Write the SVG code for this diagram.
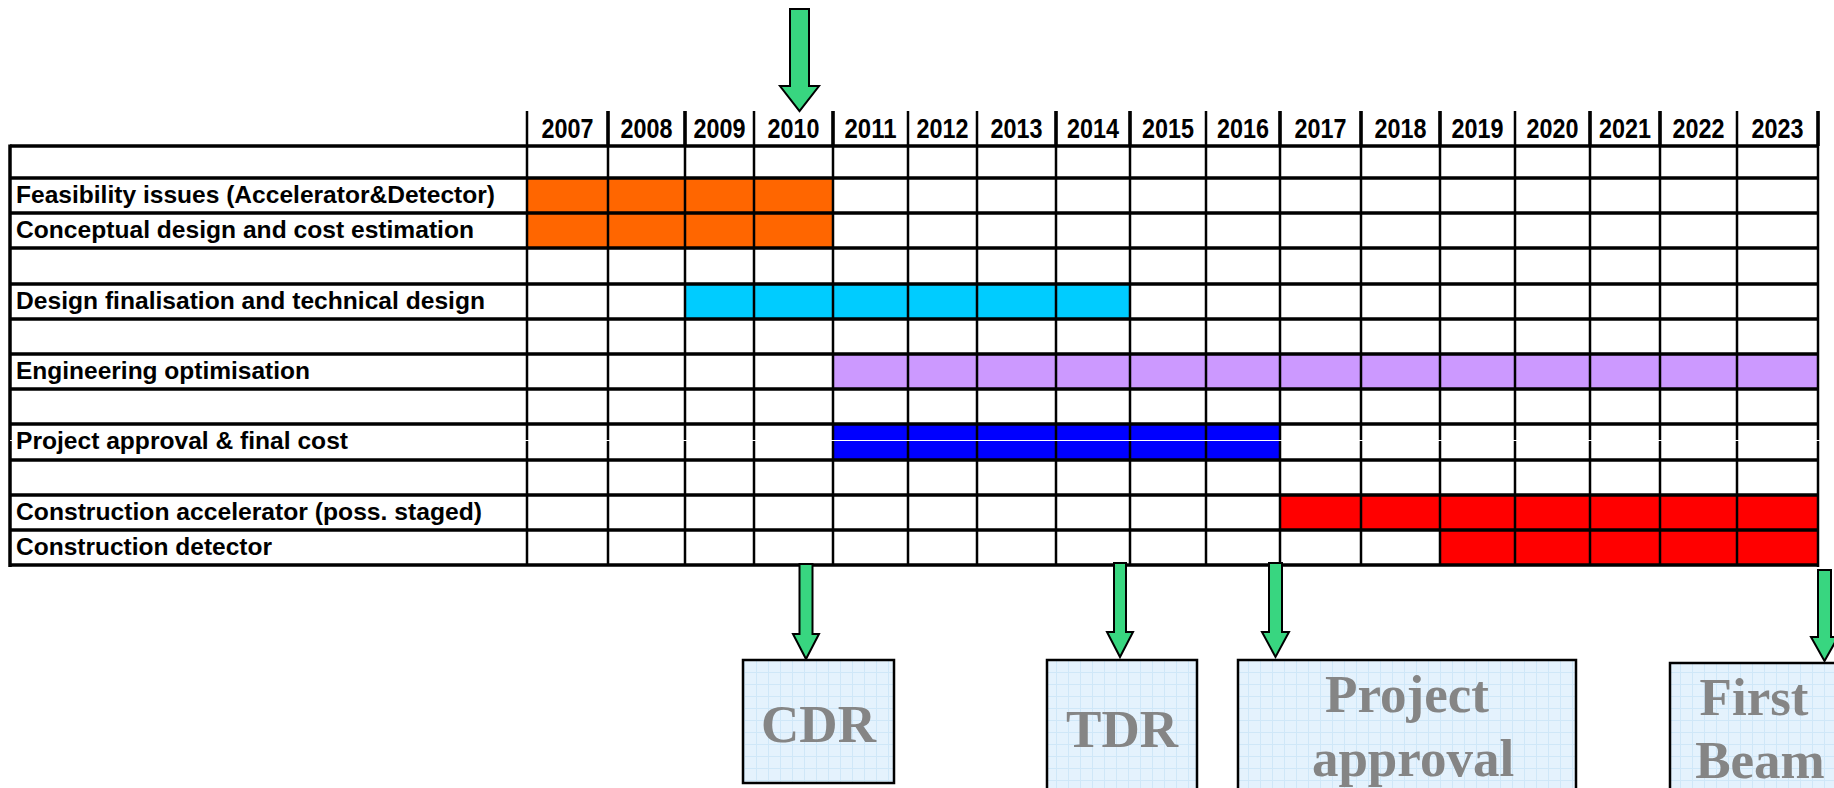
<svg xmlns="http://www.w3.org/2000/svg" width="1834" height="788" viewBox="0 0 1834 788">
<style>
.yr{font-family:"Liberation Sans",Arial,sans-serif;font-weight:bold;font-size:27px;fill:#000;text-anchor:middle}
.lbl{font-family:"Liberation Sans",Arial,sans-serif;font-weight:bold;font-size:24.5px;fill:#000}
.ms{font-family:"Liberation Serif","Times New Roman",serif;font-weight:bold;font-size:53px;fill:#858585;text-anchor:middle}
.hl{stroke:#000;stroke-width:3.5}
.vl{stroke:#000;stroke-width:2.5}
.hv{stroke:#000;stroke-width:3.5}
.arrow{fill:#38D680;stroke:#000;stroke-width:2;stroke-linejoin:miter}
.box{fill:url(#grid);stroke:#000;stroke-width:2.5}
.orange{fill:#FF6600}.cyan{fill:#00CCFF}.lav{fill:#CC99FF}.blue{fill:#0000FF}.red{fill:#FF0000}
</style>
<defs>
<pattern id="grid" width="12" height="12" patternUnits="userSpaceOnUse">
<rect width="12" height="12" fill="#E4F2FD"/>
<path d="M0 0.5H12M0.5 0V12" stroke="#CFE7F8" stroke-width="1"/>
</pattern>
</defs>
<rect width="1834" height="788" fill="#fff"/>

<g id="bars">
<rect class="orange" x="527" y="178" width="306" height="35"/>
<rect class="orange" x="527" y="213" width="306" height="35"/>
<rect class="cyan" x="685" y="284" width="445" height="35"/>
<rect class="lav" x="833" y="354" width="985" height="35"/>
<rect class="blue" x="833" y="424" width="447" height="36"/>
<rect class="red" x="1280" y="495" width="538" height="35"/>
<rect class="red" x="1440" y="530" width="378" height="35"/>
</g>

<g id="grid-lines">
<g class="hl">
<line x1="10" y1="146" x2="1819" y2="146"/>
<line x1="10" y1="178" x2="1819" y2="178"/>
<line x1="10" y1="213" x2="1819" y2="213"/>
<line x1="10" y1="248" x2="1819" y2="248"/>
<line x1="10" y1="284" x2="1819" y2="284"/>
<line x1="10" y1="319" x2="1819" y2="319"/>
<line x1="10" y1="354" x2="1819" y2="354"/>
<line x1="10" y1="389" x2="1819" y2="389"/>
<line x1="10" y1="424" x2="1819" y2="424"/>
<line x1="10" y1="460" x2="1819" y2="460"/>
<line x1="10" y1="495" x2="1819" y2="495"/>
<line x1="10" y1="530" x2="1819" y2="530"/>
<line x1="10" y1="565" x2="1819" y2="565"/>
</g>
<line class="hv" x1="10" y1="144.5" x2="10" y2="567"/>
<g class="vl">
<line x1="527" y1="111" x2="527" y2="565"/>
<line x1="608" y1="111" x2="608" y2="565"/>
<line x1="685" y1="111" x2="685" y2="565"/>
<line x1="754" y1="111" x2="754" y2="565"/>
<line x1="833" y1="111" x2="833" y2="565"/>
<line x1="908" y1="111" x2="908" y2="565"/>
<line x1="977" y1="111" x2="977" y2="565"/>
<line x1="1056" y1="111" x2="1056" y2="565"/>
<line x1="1130" y1="111" x2="1130" y2="565"/>
<line x1="1206" y1="111" x2="1206" y2="565"/>
<line x1="1280" y1="111" x2="1280" y2="565"/>
<line x1="1361" y1="111" x2="1361" y2="565"/>
<line x1="1440" y1="111" x2="1440" y2="565"/>
<line x1="1515" y1="111" x2="1515" y2="565"/>
<line x1="1590" y1="111" x2="1590" y2="565"/>
<line x1="1660" y1="111" x2="1660" y2="565"/>
<line x1="1737" y1="111" x2="1737" y2="565"/>
<line x1="1818" y1="111" x2="1818" y2="567"/>
</g>
<g class="hv">
<line x1="608" y1="111" x2="608" y2="146"/>
<line x1="685" y1="111" x2="685" y2="146"/>
<line x1="833" y1="111" x2="833" y2="146"/>
<line x1="1056" y1="111" x2="1056" y2="146"/>
<line x1="1130" y1="111" x2="1130" y2="146"/>
<line x1="1280" y1="111" x2="1280" y2="146"/>
<line x1="1361" y1="111" x2="1361" y2="146"/>
<line x1="1440" y1="111" x2="1440" y2="146"/>
<line x1="1590" y1="111" x2="1590" y2="146"/>
<line x1="1660" y1="111" x2="1660" y2="146"/>
<line x1="1818" y1="111" x2="1818" y2="146"/>
</g>
<line x1="10" y1="440.5" x2="1820" y2="440.5" stroke="#fff" stroke-width="1"/>
</g>

<g id="years">
<text class="yr" x="567.5" y="138" textLength="52" lengthAdjust="spacingAndGlyphs">2007</text>
<text class="yr" x="646.5" y="138" textLength="52" lengthAdjust="spacingAndGlyphs">2008</text>
<text class="yr" x="719.5" y="138" textLength="52" lengthAdjust="spacingAndGlyphs">2009</text>
<text class="yr" x="793.5" y="138" textLength="52" lengthAdjust="spacingAndGlyphs">2010</text>
<text class="yr" x="870.5" y="138" textLength="52" lengthAdjust="spacingAndGlyphs">2011</text>
<text class="yr" x="942.5" y="138" textLength="52" lengthAdjust="spacingAndGlyphs">2012</text>
<text class="yr" x="1016.5" y="138" textLength="52" lengthAdjust="spacingAndGlyphs">2013</text>
<text class="yr" x="1093" y="138" textLength="52" lengthAdjust="spacingAndGlyphs">2014</text>
<text class="yr" x="1168" y="138" textLength="52" lengthAdjust="spacingAndGlyphs">2015</text>
<text class="yr" x="1243" y="138" textLength="52" lengthAdjust="spacingAndGlyphs">2016</text>
<text class="yr" x="1320.5" y="138" textLength="52" lengthAdjust="spacingAndGlyphs">2017</text>
<text class="yr" x="1400.5" y="138" textLength="52" lengthAdjust="spacingAndGlyphs">2018</text>
<text class="yr" x="1477.5" y="138" textLength="52" lengthAdjust="spacingAndGlyphs">2019</text>
<text class="yr" x="1552.5" y="138" textLength="52" lengthAdjust="spacingAndGlyphs">2020</text>
<text class="yr" x="1625" y="138" textLength="52" lengthAdjust="spacingAndGlyphs">2021</text>
<text class="yr" x="1698.5" y="138" textLength="52" lengthAdjust="spacingAndGlyphs">2022</text>
<text class="yr" x="1777.5" y="138" textLength="52" lengthAdjust="spacingAndGlyphs">2023</text>
</g>

<g id="row-feasibility"><text class="lbl" x="16" y="203" textLength="479" lengthAdjust="spacingAndGlyphs">Feasibility issues (Accelerator&amp;Detector)</text></g>
<g id="row-conceptual"><text class="lbl" x="16" y="238" textLength="458" lengthAdjust="spacingAndGlyphs">Conceptual design and cost estimation</text></g>
<g id="row-design"><text class="lbl" x="16" y="309" textLength="469" lengthAdjust="spacingAndGlyphs">Design finalisation and technical design</text></g>
<g id="row-engineering"><text class="lbl" x="16" y="379" textLength="294" lengthAdjust="spacingAndGlyphs">Engineering optimisation</text></g>
<g id="row-approval"><text class="lbl" x="16" y="449" textLength="332" lengthAdjust="spacingAndGlyphs">Project approval &amp; final cost</text></g>
<g id="row-constr-acc"><text class="lbl" x="16" y="520" textLength="466" lengthAdjust="spacingAndGlyphs">Construction accelerator (poss. staged)</text></g>
<g id="row-constr-det"><text class="lbl" x="16" y="555" textLength="256" lengthAdjust="spacingAndGlyphs">Construction detector</text></g>

<g id="connectors">
<polygon class="arrow" points="790,9 809,9 809,86 819,86 799.5,111 780,86 790,86"/>
<polygon class="arrow" points="799.5,564 812.5,564 812.5,634 819,634 806,659 793,634 799.5,634"/>
<polygon class="arrow" points="1114,563 1126,563 1126,632 1133,632 1120,657 1107,632 1114,632"/>
<polygon class="arrow" points="1269,563 1282,563 1282,632 1289,632 1275.5,657 1262,632 1269,632"/>
<polygon class="arrow" points="1818,570 1831,570 1831,637 1838,637 1824.5,661 1811,637 1818,637"/>
</g>

<g id="node-cdr">
<rect class="box" x="743" y="660" width="151" height="123"/>
<text class="ms" x="818.5" y="742">CDR</text>
</g>
<g id="node-tdr">
<rect class="box" x="1047" y="660" width="150" height="140"/>
<text class="ms" x="1122" y="747">TDR</text>
</g>
<g id="node-approval">
<rect class="box" x="1238" y="660" width="338" height="140"/>
<text class="ms" x="1407" y="712">Project</text>
<text class="ms" x="1413" y="776">approval</text>
</g>
<g id="node-firstbeam">
<rect class="box" x="1670" y="663" width="180" height="140"/>
<text class="ms" x="1754" y="715">First</text>
<text class="ms" x="1760" y="778">Beam</text>
</g>
</svg>
